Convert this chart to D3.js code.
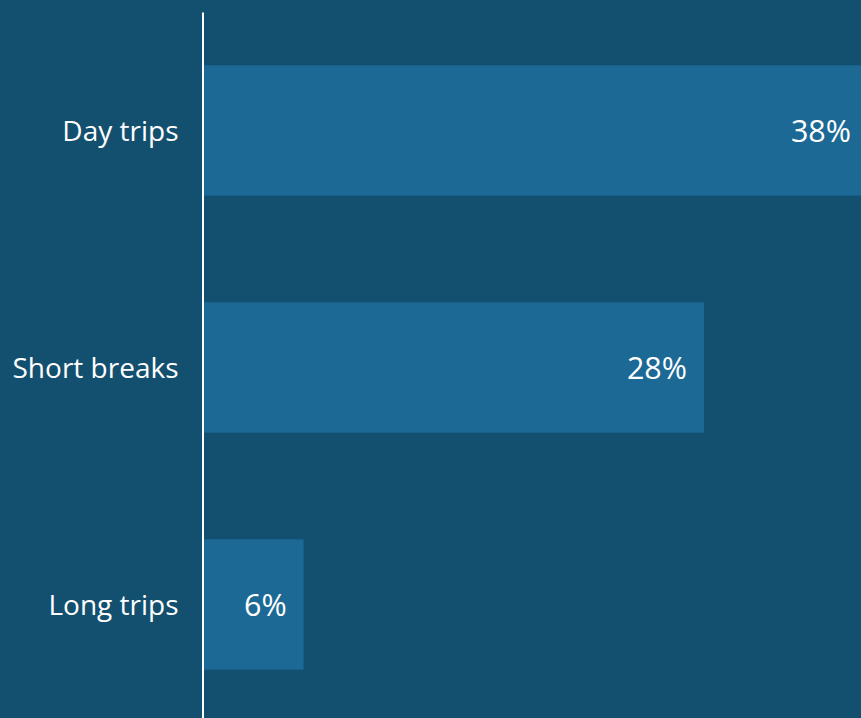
<!DOCTYPE html>
<html>
<head>
<meta charset="utf-8">
<script src="https://cdn.jsdelivr.net/npm/d3@7"></script>
<style>
html, body { margin: 0; padding: 0; background: #134f6e; overflow: hidden; }
svg { display: block; }
text { font-family: "Open Sans", "Noto Sans", sans-serif; fill: #ffffff; }
</style>
</head>
<body>
<div id="chart"></div>
<script>
const categories = ["Day trips", "Short breaks", "Long trips"];
const shares = [37.6, 28.0, 5.6];   // percent; Day trips bar runs past the right edge
const W = 861, H = 718;

const data = categories.map((c, i) => ({ category: c, value: shares[i] }));

const svg = d3.select("#chart").append("svg")
  .attr("width", W).attr("height", H)
  .style("background", "#134f6e");

const x0 = 203.5;
const x = d3.scaleLinear().domain([0, 28]).range([x0, 704]);
const y = d3.scaleBand().domain(categories).range([12, 723])
  .paddingInner(0.45).paddingOuter(0.225);

svg.append("g").selectAll("rect").data(data).join("rect")
  .attr("x", x0)
  .attr("y", d => y(d.category))
  .attr("width", d => x(d.value) - x0)
  .attr("height", y.bandwidth())
  .attr("fill", "#1c6995");

const fmt = d3.format(".0f");
svg.append("g").selectAll("text").data(data).join("text")
  .attr("x", d => Math.min(x(d.value) - 17, W - 10))
  .attr("y", d => y(d.category) + y.bandwidth() / 2)
  .attr("dy", "0.37em")
  .attr("text-anchor", "end")
  .style("font-size", "30.5px")
  .text(d => fmt(d.value) + "%");

const axis = svg.append("g")
  .attr("transform", `translate(${x0 - 1},0)`)
  .call(d3.axisLeft(y).tickSize(0).tickPadding(24));
axis.select(".domain").attr("stroke", "#ffffff").attr("stroke-width", 2);
axis.selectAll(".tick text")
  .attr("dy", "0.38em")
  .style("font-size", "28px")
  .style("font-family", "'Open Sans', 'Noto Sans', sans-serif")
  .attr("fill", "#ffffff");
</script>
</body>
</html>
